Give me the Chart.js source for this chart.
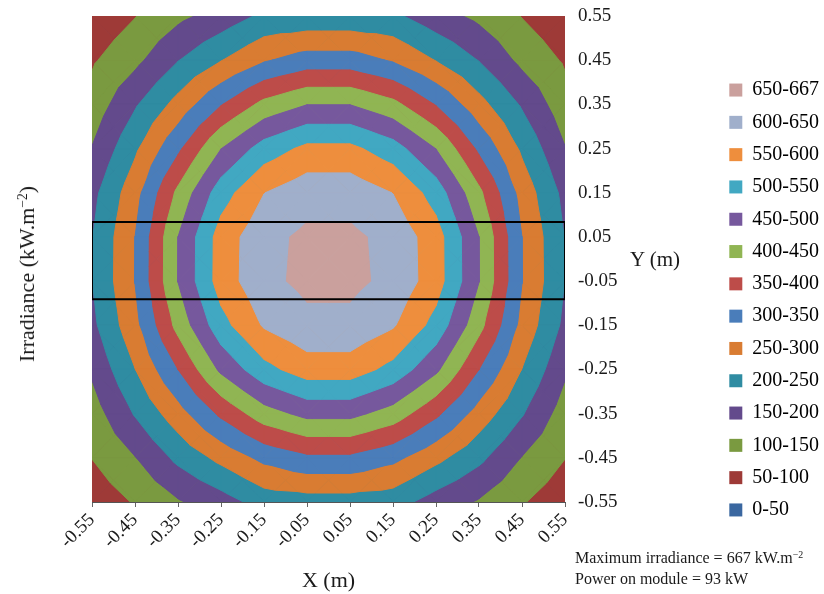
<!DOCTYPE html>
<html>
<head>
<meta charset="utf-8">
<script src="https://cdn.jsdelivr.net/npm/chart.js@4.4.0/dist/chart.umd.min.js"></script>
<style>
  body { margin: 0; background: #fff; }
  #wrap { position: relative; width: 824px; height: 594px; font-family: 'Liberation Serif', 'Times New Roman', serif; color: #1a1a1a; }
  #chart { position: absolute; left: 0; top: 0; }
  .txt { position: absolute; white-space: nowrap; line-height: 1; }
  .txt sup { font-size: 0.62em; vertical-align: 0.55em; line-height: 0; }
  #irr { left: 27px; top: 274px; font-size: 22px; transform: translate(-50%, -50%) rotate(-90deg); }
  #ym { left: 630px; top: 249px; font-size: 21px; }
  #note { left: 575px; top: 547px; font-size: 16px; line-height: 21px; }
</style>
</head>
<body>
<div id="wrap">
  <canvas id="chart" width="824" height="594"></canvas>
  <div class="txt" id="irr">Irradiance (kW.m<sup>−2</sup>)</div>
  <div class="txt" id="ym">Y (m)</div>
  <div class="txt" id="note">Maximum irradiance = 667 kW.m<sup>−2</sup><br>Power on module = 93 kW</div>
</div>
<script>
// grid positions (m), also used as tick labels
const tickValues = [-0.55, -0.45, -0.35, -0.25, -0.15, -0.05, 0.05, 0.15, 0.25, 0.35, 0.45, 0.55];
const gridX = [-0.55, -0.45, -0.35, -0.25, -0.15, -0.05, 0.05, 0.15, 0.25, 0.35, 0.45, 0.55];
const gridY = [0.55, 0.45, 0.35, 0.25, 0.15, 0.05, -0.05, -0.15, -0.25, -0.35, -0.45, -0.55];

// irradiance (kW/m2), one row per gridY value
const irradiance = [
  [62, 98, 138, 170, 210, 213, 213, 210, 170, 138, 98, 62],
  [94, 137, 198, 248, 295, 322, 322, 295, 248, 198, 137, 94],
  [119, 194, 267, 347, 414, 449, 449, 414, 347, 267, 194, 119],
  [152, 241, 340, 449, 522, 562, 562, 522, 449, 340, 241, 152],
  [185, 281, 411, 527, 599, 631, 631, 599, 527, 411, 281, 185],
  [198, 300, 450, 572, 635, 660, 660, 635, 572, 450, 300, 198],
  [199, 301, 451, 573, 637, 662, 662, 637, 573, 451, 301, 199],
  [188, 285, 416, 532, 605, 637, 637, 605, 532, 416, 285, 188],
  [158, 249, 350, 460, 534, 575, 575, 534, 460, 350, 249, 158],
  [126, 204, 279, 360, 428, 464, 464, 428, 360, 279, 204, 126],
  [101, 148, 212, 264, 313, 340, 340, 313, 264, 212, 148, 101],
  [68, 104, 145, 177, 221, 227, 227, 221, 177, 145, 104, 68]
];

// contour bands, low to high
const bandLabels = ['0-50', '50-100', '100-150', '150-200', '200-250', '250-300', '300-350',
  '350-400', '400-450', '450-500', '500-550', '550-600', '600-650', '650-667'];
const bandLimits = [0, 50, 100, 150, 200, 250, 300, 350, 400, 450, 500, 550, 600, 650];
const bandColors = ['#3a67a0', '#9e3a37', '#7a9a40', '#634a8c', '#2f8ca2', '#d97c32', '#4a7dba',
  '#bd4c49', '#90b553', '#76589d', '#41a8c2', '#ee8e3d', '#a0afcb', '#caa09d'];

// module outline (m)
const moduleX = [-0.55, 0.55, 0.55, -0.55, -0.55];
const moduleY = [0.084, 0.084, -0.091, -0.091, 0.084];

const serif = "'Liberation Serif', 'Times New Roman', serif";
Chart.defaults.font.family = serif;
Chart.defaults.color = '#1a1a1a';

function clipPoly(pts, level) {
  const out = [];
  for (let i = 0; i < pts.length; i++) {
    const a = pts[i], b = pts[(i + 1) % pts.length];
    const ina = a.v >= level, inb = b.v >= level;
    if (ina) out.push(a);
    if (ina !== inb) {
      const t = (level - a.v) / (b.v - a.v);
      out.push({ x: a.x + t * (b.x - a.x), y: a.y + t * (b.y - a.y), v: level });
    }
  }
  return out;
}

// filled contour: each grid cell split in 4 triangles, linear inside each
const contourPlugin = {
  id: 'contour',
  beforeDatasetsDraw(chart) {
    const { ctx, chartArea, scales: { x, y } } = chart;
    const tris = [];
    for (let r = 0; r < gridY.length - 1; r++) {
      for (let c = 0; c < gridX.length - 1; c++) {
        const p = (rr, cc) => ({ x: x.getPixelForValue(gridX[cc]), y: y.getPixelForValue(gridY[rr]), v: irradiance[rr][cc] });
        const a = p(r, c), b = p(r, c + 1), d = p(r + 1, c + 1), e = p(r + 1, c);
        const m = { x: (a.x + b.x) / 2, y: (a.y + e.y) / 2, v: (a.v + b.v + d.v + e.v) / 4 };
        tris.push([a, b, m], [b, d, m], [d, e, m], [e, a, m]);
      }
    }
    ctx.save();
    ctx.beginPath();
    ctx.rect(chartArea.left, chartArea.top, chartArea.width, chartArea.height);
    ctx.clip();
    ctx.lineJoin = 'round';
    ctx.lineWidth = 1;
    bandLimits.forEach((lim, k) => {
      ctx.fillStyle = bandColors[k];
      ctx.strokeStyle = bandColors[k];
      tris.forEach(t => {
        const poly = clipPoly(t, lim);
        if (poly.length < 3) return;
        ctx.beginPath();
        ctx.moveTo(poly[0].x, poly[0].y);
        for (let i = 1; i < poly.length; i++) ctx.lineTo(poly[i].x, poly[i].y);
        ctx.closePath();
        ctx.fill();
        ctx.stroke();
      });
    });
    ctx.restore();
  }
};

const setTicks = scale => { scale.ticks = tickValues.map(v => ({ value: v })); };

new Chart(document.getElementById('chart'), {
  type: 'scatter',
  data: {
    datasets: [{
      label: 'Module',
      data: moduleX.map((v, i) => ({ x: v, y: moduleY[i] })),
      showLine: true,
      borderColor: '#000',
      borderWidth: 2,
      pointRadius: 0,
      fill: false
    }]
  },
  options: {
    responsive: false,
    animation: false,
    events: [],
    layout: { padding: { left: 92, top: 16, right: 0, bottom: 10 } },
    scales: {
      x: {
        type: 'linear',
        position: 'bottom',
        min: -0.55,
        max: 0.55,
        z: 1,
        afterBuildTicks: setTicks,
        afterFit: s => { s.height = 82; },
        ticks: {
          autoSkip: false,
          minRotation: 45,
          maxRotation: 45,
          padding: 2,
          font: { size: 19 },
          callback: v => v.toFixed(2)
        },
        grid: { drawOnChartArea: false, drawTicks: true, tickLength: 5, color: '#666' },
        border: { display: true, color: '#555', width: 1 },
        title: { display: true, text: 'X (m)', font: { size: 22 }, padding: { top: 0, bottom: -10 } }
      },
      y: {
        type: 'linear',
        position: 'right',
        min: -0.55,
        max: 0.55,
        z: 1,
        afterBuildTicks: setTicks,
        afterFit: s => { s.width = 152; },
        ticks: { padding: 0, font: { size: 19 }, callback: v => v.toFixed(2) },
        grid: { display: true, drawOnChartArea: false, drawTicks: true, tickLength: 13, color: 'rgba(0,0,0,0)' },
        border: { display: false }
      }
    },
    plugins: {
      tooltip: { enabled: false },
      legend: {
        position: 'right',
        maxWidth: 107,
        onClick: null,
        labels: {
          boxWidth: 13,
          boxHeight: 13,
          padding: 12.3,
          font: { size: 20 },
          color: '#1a1a1a',
          generateLabels: () => bandLabels.map((t, i) => ({
            text: t, fillStyle: bandColors[i], strokeStyle: bandColors[i], lineWidth: 0, hidden: false, index: i
          })).reverse()
        }
      }
    }
  },
  plugins: [contourPlugin]
});
</script>
</body>
</html>
